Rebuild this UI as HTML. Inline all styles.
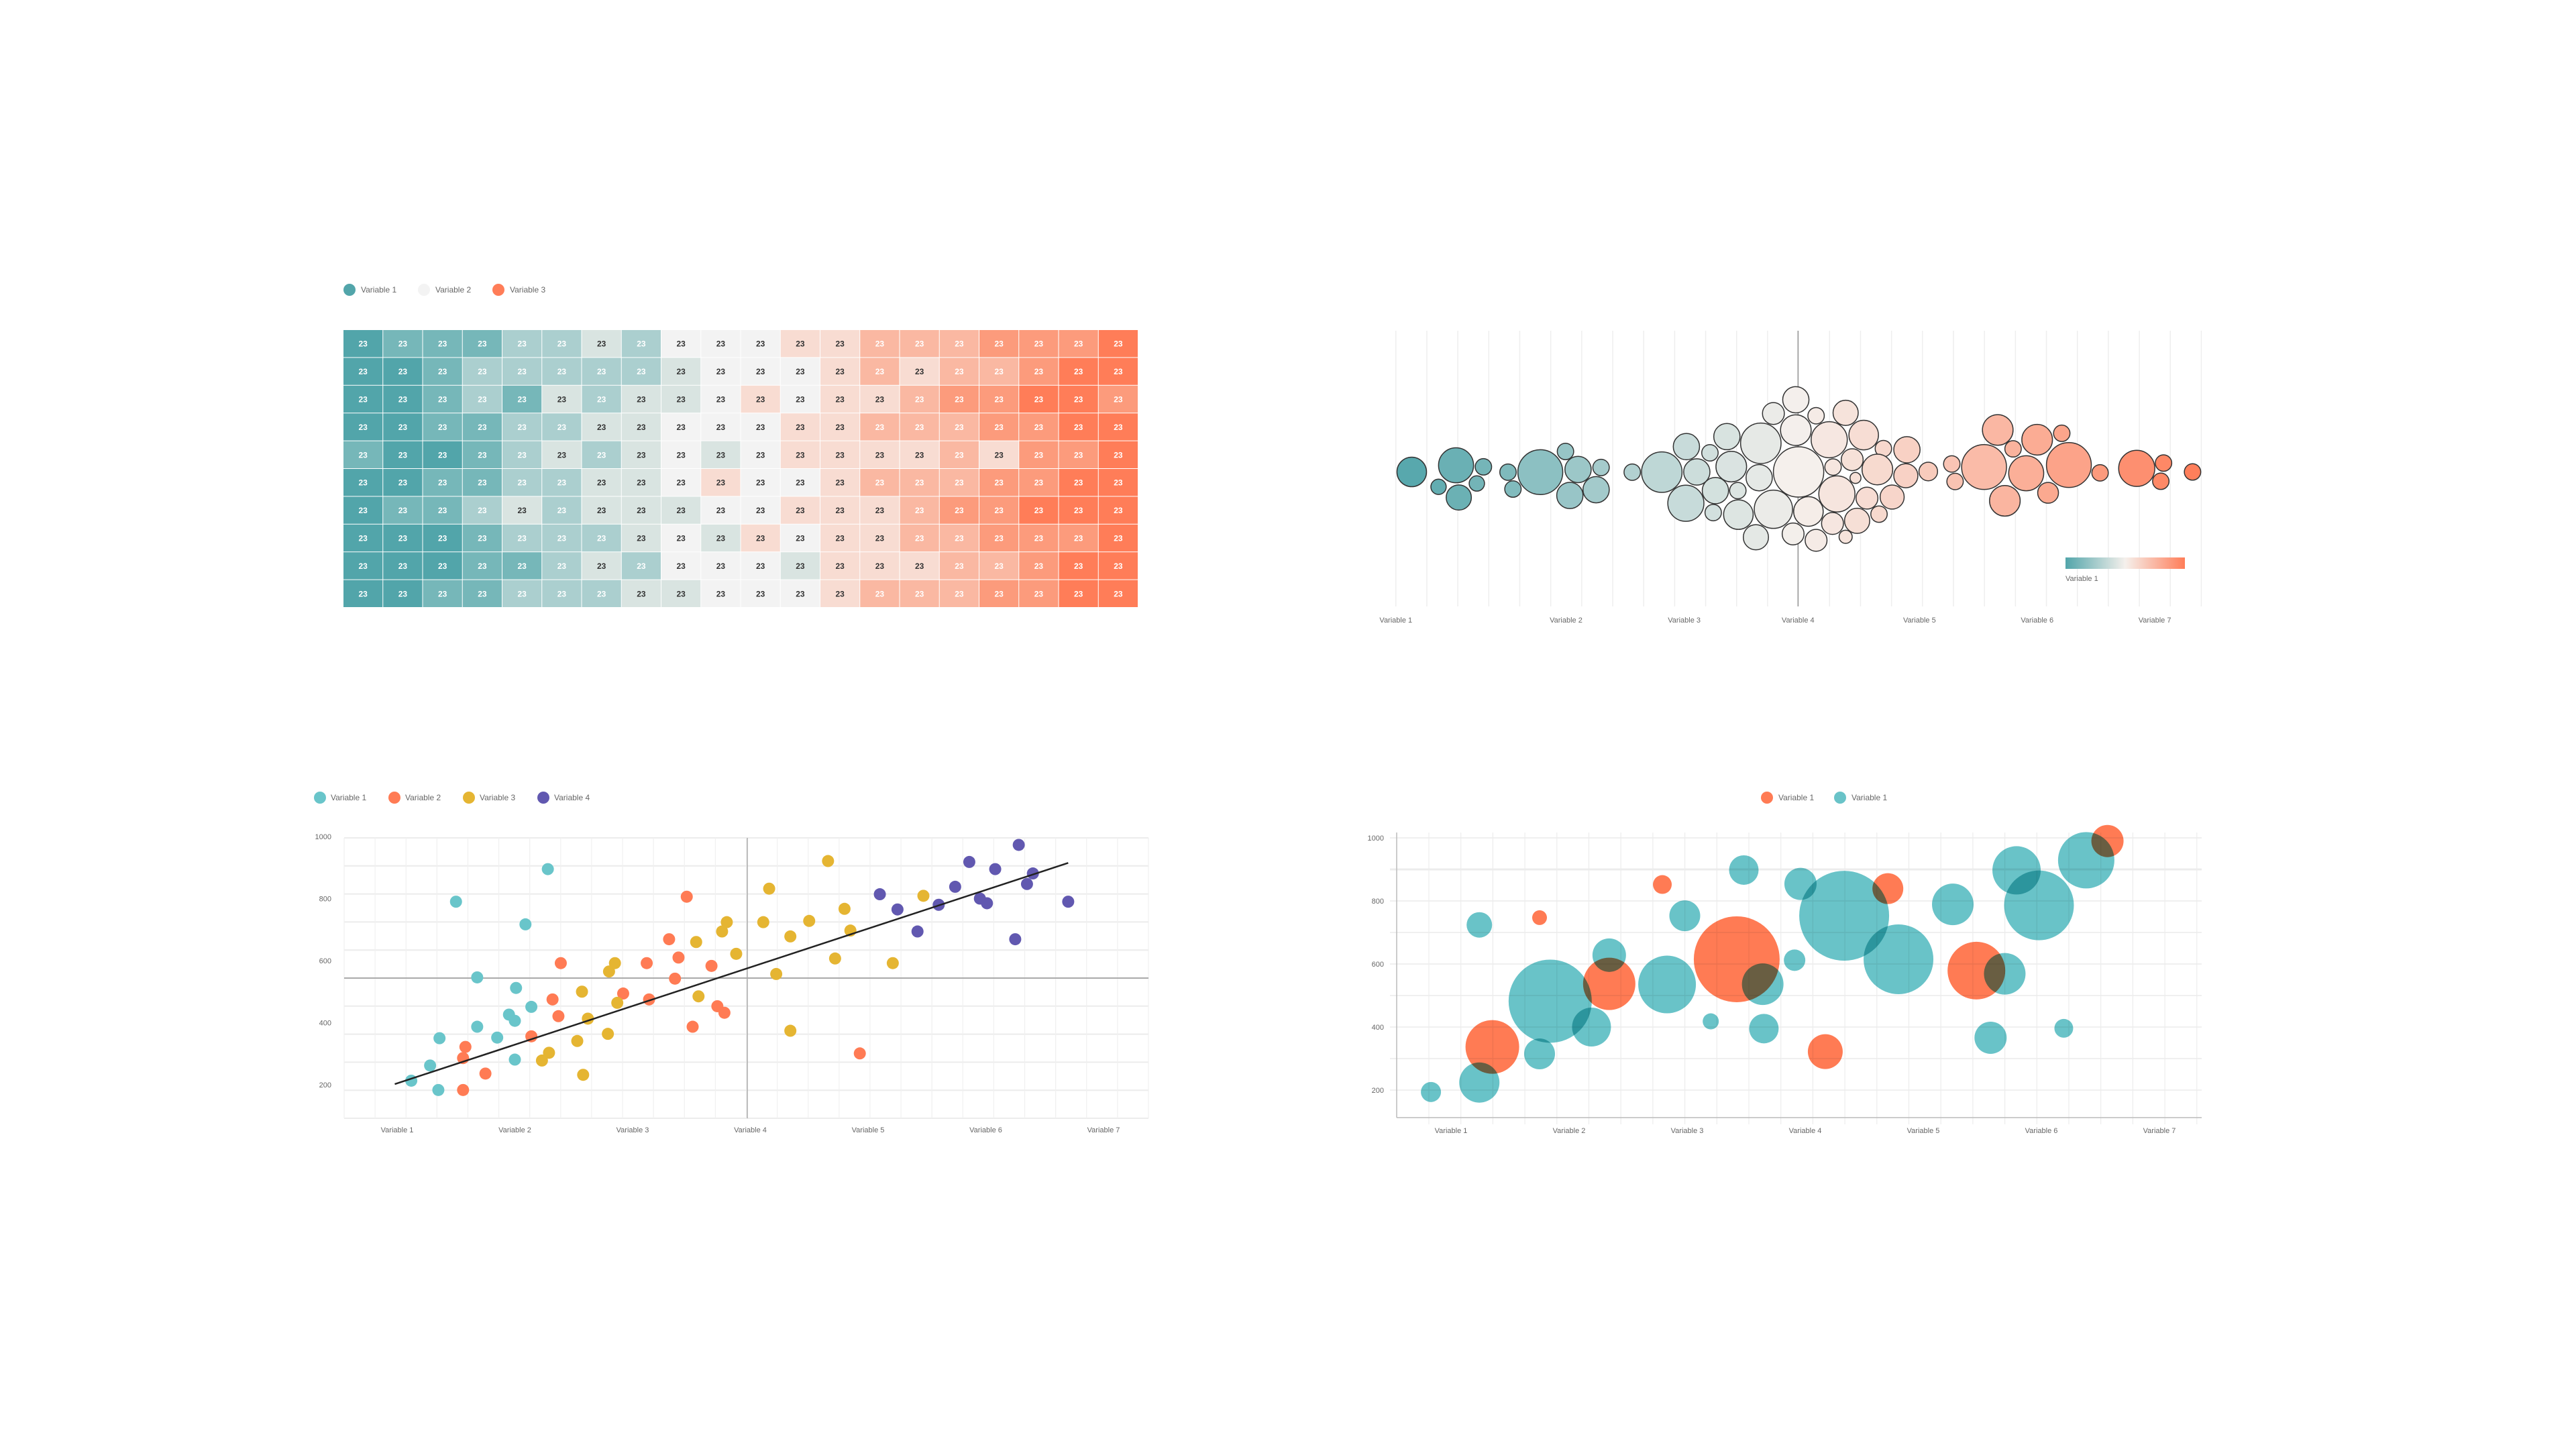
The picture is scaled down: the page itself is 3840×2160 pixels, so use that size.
<!DOCTYPE html>
<html><head><meta charset="utf-8">
<style>
html,body{margin:0;padding:0;background:#fff;}
svg{display:block;font-family:"Liberation Sans",sans-serif;}
</style></head>
<body>
<svg id="root" width="3840" height="2160" viewBox="0 0 3840 2160" xmlns="http://www.w3.org/2000/svg">
<rect width="3840" height="2160" fill="#fff"/>
<g id="heat"></g>
<g id="swarm"></g>
<g id="scatter"></g>
<g id="bubble"></g>
</svg>
<script>
// ---------- heatmap data ----------
const heatLevels = [
[-4,-3,-3,-3,-2,-2,-1,-2,0,0,0,1,1,2,2,2,3,3,3,4],
[-4,-4,-3,-2,-2,-2,-2,-2,-1,0,0,0,1,2,1,2,2,3,4,4],
[-4,-4,-3,-2,-3,-1,-2,-1,-1,0,1,0,1,1,2,3,3,4,4,3],
[-4,-4,-3,-3,-2,-2,-1,-1,0,0,0,1,1,2,2,2,3,3,4,4],
[-3,-4,-4,-3,-2,-1,-2,-1,0,-1,0,1,1,1,1,2,1,3,3,4],
[-4,-4,-3,-3,-2,-2,-1,-1,0,1,0,0,1,2,2,2,3,3,4,4],
[-4,-3,-3,-2,-1,-2,-1,-1,-1,0,0,1,1,1,2,3,3,4,4,4],
[-4,-4,-4,-3,-2,-2,-2,-1,0,-1,1,0,1,1,2,2,3,3,3,4],
[-4,-4,-4,-3,-3,-2,-1,-2,0,0,0,-1,1,1,1,2,2,3,4,4],
[-4,-4,-3,-3,-2,-2,-2,-1,-1,0,0,0,1,2,2,2,3,3,4,4]];
const heatValue = 23;
const heatLegend = ["Variable 1","Variable 2","Variable 3"];

// ---------- beeswarm data (x position units, y position units, radius units) ----------
const swarmX = [79,160,128,210,198,165,255,264,314,360,383,368,425,416,482,536,581,600,624,655,663,634,675,580,630,676,717,714,740,781,781,786,740,708,776,818,842,849,872,884,905,890,856,804,848,818,872,893,941,984,930,982,911,957,933,1023,1066,1072,1125,1150,1178,1163,1202,1222,1242,1267,1280,1337,1404,1453,1448,1506];
const swarmY = [675,645,742,652,727,790,676,752,676,583,664,781,655,755,676,676,561,675,589,516,651,759,759,816,858,867,546,701,412,350,487,675,843,969,954,422,530,653,409,620,509,702,774,853,907,983,967,895,570,575,664,692,793,788,865,673,639,718,653,486,571,805,681,530,769,501,644,679,659,635,717,675];
const swarmR = [27,32,14,15,14,23,15,15,41,15,24,24,15,24,15,37,24,24,15,24,28,24,15,33,15,27,37,24,20,24,28,46,35,23,20,15,33,15,23,20,27,10,33,27,20,20,12,23,15,24,28,22,20,22,15,17,15,15,41,28,15,28,32,28,19,15,41,15,33,15,15,15];
const swarmLabels = ["Variable 1","Variable 2","Variable 3","Variable 4","Variable 5","Variable 6","Variable 7"];
const swarmLabelPos = [50,361,577,785,1007,1222,1437];

// ---------- scatter data ----------
const scTealX = [1.12,1.28,1.35,1.36,1.50,1.68,1.68,1.85,1.95,2.00,2.00,2.01,2.09,2.14,2.28];
const scTealY = [213,262,183,350,790,387,546,352,426,406,281,512,717,451,895];
const scOrangeX = [1.56,1.58,1.56,1.75,2.14,2.32,2.37,2.39,2.92,3.12,3.14,3.31,3.36,3.39,3.46,3.51,3.67,3.72,3.78,4.93];
const scOrangeY = [286,322,183,236,356,475,421,592,494,592,475,669,542,610,806,387,583,453,432,301];
const scYellowX = [2.23,2.29,2.53,2.57,2.58,2.62,2.79,2.80,2.85,2.87,3.54,3.56,3.76,3.80,3.88,4.11,4.16,4.22,4.34,4.34,4.50,4.66,4.72,4.80,4.85,5.21,5.47];
const scYellowY = [278,303,341,500,232,413,364,565,592,464,660,485,694,724,622,724,832,557,678,374,728,921,607,767,697,592,809];
const scPurpleX = [5.10,5.25,5.42,5.60,5.74,5.86,5.95,6.01,6.08,6.25,6.28,6.35,6.40,6.70];
const scPurpleY = [814,765,694,780,838,918,800,785,895,669,973,847,881,790];
const trendX = [0.98,6.70];
const trendY = [202,915];
const yTicks = [1000,800,600,400,200];
const xCats = ["Variable 1","Variable 2","Variable 3","Variable 4","Variable 5","Variable 6","Variable 7"];
const scLegend = ["Variable 1","Variable 2","Variable 3","Variable 4"];

// ---------- bubble data ----------
const bbTealX = [0.83,1.24,1.24,1.75,1.84,2.19,2.34,2.83,2.98,3.20,3.48,3.64,3.65,3.91,3.96,4.33,4.79,5.25,5.57,5.69,5.79,5.98,6.19,6.38];
const bbTealY = [194,224,724,315,482,400,628,535,753,418,898,536,395,612,854,753,615,789,366,569,897,786,396,929];
const bbTealS = [15,30,19,23,62,29,25,43,23,12,22,31,22,16,24,67,52,31,24,31,36,52,14,42];
const bbOrangeX = [1.35,1.75,2.34,2.79,3.42,4.17,4.70,5.45,6.56];
const bbOrangeY = [337,747,537,852,615,322,839,579,990];
const bbOrangeS = [40,11,39,14,64,26,23,43,24];
const bbLegend = ["Variable 1","Variable 1"];

const NS = "http://www.w3.org/2000/svg";
function mk(parent, tag, attrs, text){
  const e = document.createElementNS(NS, tag);
  for (const k in attrs) e.setAttribute(k, attrs[k]);
  if (text !== undefined) e.textContent = text;
  parent.appendChild(e);
  return e;
}
function hex(c){return [parseInt(c.slice(1,3),16),parseInt(c.slice(3,5),16),parseInt(c.slice(5,7),16)];}
function mix(a,b,t){const A=hex(a),B=hex(b);return "rgb("+A.map((v,i)=>Math.round(v+(B[i]-v)*t)).join(",")+")";}

// ================= HEATMAP =================
(function(){
  const g = document.getElementById('heat');
  const colors = {"-4":"#52a5aa","-3":"#76b7b9","-2":"#abcfcf","-1":"#d9e4e1","0":"#f3f3f3","1":"#f8dcd2","2":"#fab8a2","3":"#fc9b7c","4":"#ff7d58"};
  const x0=512, y0=492, cw=59.25, ch=41.4;
  const legColors = ["#52a5aa","#f3f3f3","#ff7d58"];
  heatLegend.forEach((t,i)=>{
    const lx = 521 + i*111;
    const c = mk(g,'circle',{cx:lx,cy:432,r:9,fill:legColors[i]});
    
    
    const tx = mk(g,'text',{x:lx+17,y:436,'font-size':12,fill:'#666'},t);
    
    
  });
  heatLevels.forEach((row,r)=>{
    row.forEach((lv,c)=>{
      const rc = mk(g,'rect',{x:x0+c*cw,y:y0+r*ch,width:cw-1,height:ch-1,fill:colors[lv]});
      
      
      const dark = Math.abs(lv)<=1;
      const tx = mk(g,'text',{x:x0+c*cw+cw/2-0.5,y:y0+r*ch+ch/2+4,'font-size':12,'font-weight':'bold','text-anchor':'middle',fill:dark?'#333':'#fff'},String(heatValue));
      
      
    });
  });
})();

// ================= BEESWARM =================
(function(){
  const g = document.getElementById('swarm');
  const px = v => 2040 + v/1.226;
  const py = v => 480 + v/3.02;
  const pr = v => v/1.226;
  const left = px(50), right = px(1522);
  const step = (right-left)/26;
  for (let i=0;i<=26;i++){
    const l = mk(g,'line',{x1:left+i*step,x2:left+i*step,y1:493,y2:904,stroke:'#eeeeee','stroke-width':1.5});
    
    
  }
  const cl = mk(g,'line',{x1:px(785),x2:px(785),y1:493,y2:904,stroke:'#999','stroke-width':1.5});
  
  
  function col(x){
    const t=(x-left)/(right-left);
    return t<0.5 ? mix('#52a5aa','#f5f0ec',t/0.5) : mix('#f5f0ec','#ff7d58',(t-0.5)/0.5);
  }
  swarmX.forEach((v,i)=>{
    const cx=px(v);
    const c = mk(g,'circle',{cx:cx,cy:py(swarmY[i]),r:pr(swarmR[i]),fill:col(cx),stroke:'#333','stroke-width':1.5});
    
    
  });
  swarmLabels.forEach((t,i)=>{
    const tx = mk(g,'text',{x:px(swarmLabelPos[i]),y:928,'font-size':11,'text-anchor':'middle',fill:'#666'},t);
    
    
  });
  const defs = mk(g,'defs',{});
  const lg = mk(defs,'linearGradient',{id:'swg',x1:0,x2:1,y1:0,y2:0});
  mk(lg,'stop',{offset:'0','stop-color':'#52a5aa'});
  mk(lg,'stop',{offset:'0.5','stop-color':'#f5f0ec'});
  mk(lg,'stop',{offset:'1','stop-color':'#ff7d58'});
  const gr = mk(g,'rect',{x:3079,y:831,width:178,height:17,fill:'url(#swg)'});
  
  
  const gt = mk(g,'text',{x:3079,y:866,'font-size':11,fill:'#666'},'Variable 1');
  
  
})();

// ================= SCATTER =================
(function(){
  const g = document.getElementById('scatter');
  const sx = v => 592 + (v-1)*175.5;
  const sy = v => 1247 + (1000-v)*0.4625;
  const L=513,R=1712,T=1249,B=1667;
  for (let i=0;i<=10;i++){
    const y=T+i*(B-T)/10;
    const l = mk(g,'line',{x1:L,x2:R,y1:y,y2:y,stroke:'#ececec','stroke-width':2});
    
    
  }
  for (let i=0;i<=26;i++){
    const x=L+i*(R-L)/26;
    const l = mk(g,'line',{x1:x,x2:x,y1:T,y2:B,stroke:'#f0f0f0','stroke-width':1.2});
    
    
  }
  const hl = mk(g,'line',{x1:L,x2:R,y1:1458,y2:1458,stroke:'#aaa','stroke-width':2});
  
  
  const vl = mk(g,'line',{x1:1114,x2:1114,y1:T,y2:B,stroke:'#aaa','stroke-width':1.5});
  
  
  yTicks.forEach(v=>{
    const t = mk(g,'text',{x:494,y:sy(v)+4,'font-size':11,'text-anchor':'end',fill:'#666'},String(v));
    
    
  });
  xCats.forEach((c,i)=>{
    const t = mk(g,'text',{x:sx(i+1),y:1688,'font-size':11,'text-anchor':'middle',fill:'#666'},c);
    
    
  });
  const series = [[scTealX,scTealY,'#69c5ca'],[scOrangeX,scOrangeY,'#ff7b54'],[scYellowX,scYellowY,'#e5b532'],[scPurpleX,scPurpleY,'#6158b0']];
  series.forEach((s,si)=>{
    s[0].forEach((x,i)=>{
      const c = mk(g,'circle',{cx:sx(x),cy:sy(s[1][i]),r:9,fill:s[2]});
      
      
    });
    const lx = 477 + si*111;
    const m = mk(g,'circle',{cx:lx,cy:1189,r:9,fill:s[2]});
    
    
    const t = mk(g,'text',{x:lx+16,y:1193,'font-size':12,fill:'#666'},scLegend[si]);
    
    
  });
  const tl = mk(g,'line',{x1:sx(trendX[0]),y1:sy(trendY[0]),x2:sx(trendX[1]),y2:sy(trendY[1]),stroke:'#222','stroke-width':2.5});
  
  
})();

// ================= BUBBLE =================
(function(){
  const g = document.getElementById('bubble');
  const bx = v => 2163 + (v-1)*176;
  const by = v => 1249 + (1000-v)*0.47;
  const br = v => v;
  const L=2082,R=3282,B=1666;
  for (let v=1000; v>=200; v-=100){
    const l = mk(g,'line',{x1:2072,x2:R,y1:by(v),y2:by(v),stroke:'#ececec','stroke-width':v===900?3:1.5});
    
    
  }
  for (let i=0;i<=24;i++){
    const x=2130+i*47.7;
    if (x>R+1) break;
    const l = mk(g,'line',{x1:x,x2:x,y1:1241,y2:1676,stroke:'#ececec','stroke-width':1.2});
    
    
  }
  const ax = mk(g,'line',{x1:L,x2:R,y1:B,y2:B,stroke:'#bbb','stroke-width':1.5});
  
  
  const ay = mk(g,'line',{x1:L,x2:L,y1:1241,y2:B,stroke:'#bbb','stroke-width':1.5});
  
  
  yTicks.forEach(v=>{
    const t = mk(g,'text',{x:2063,y:by(v)+4,'font-size':11,'text-anchor':'end',fill:'#666'},String(v));
    
    
  });
  xCats.forEach((c,i)=>{
    const t = mk(g,'text',{x:bx(i+1),y:1689,'font-size':11,'text-anchor':'middle',fill:'#666'},c);
    
    
  });
  bbTealX.forEach((x,i)=>{
    const c = mk(g,'circle',{cx:bx(x),cy:by(bbTealY[i]),r:br(bbTealS[i]),fill:'#69c3c8',style:'mix-blend-mode:multiply'});
    
    
  });
  bbOrangeX.forEach((x,i)=>{
    const c = mk(g,'circle',{cx:bx(x),cy:by(bbOrangeY[i]),r:br(bbOrangeS[i]),fill:'#ff7b54',style:'mix-blend-mode:multiply'});
    
    
  });
  const legCol = ['#ff7b54','#69c3c8'];
  bbLegend.forEach((t,i)=>{
    const lx = 2634 + i*109;
    const m = mk(g,'circle',{cx:lx,cy:1189,r:9,fill:legCol[i]});
    
    
    const tx = mk(g,'text',{x:lx+17,y:1193,'font-size':12,fill:'#666'},t);
    
    
  });
})();
</script>
</body></html>
